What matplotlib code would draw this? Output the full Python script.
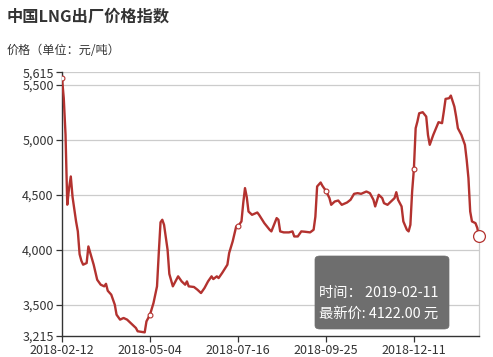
import matplotlib
matplotlib.use("Agg")
import matplotlib.pyplot as plt
from matplotlib.patches import FancyBboxPatch
from matplotlib.ticker import FuncFormatter

plt.rcParams['font.family'] = ['Noto Sans CJK SC', 'DejaVu Sans']

title = "中国LNG出厂价格指数"
unit_label = "价格（单位：元/吨）"

# trading-day index and price (元/吨)
day_index = [0, 1, 2, 3, 4, 5, 6, 8, 9, 10, 11, 12, 14, 15, 17, 18, 20, 22, 24, 25,
             26, 28, 30, 31, 33, 35, 37, 40, 42, 43, 47, 48, 50, 52, 54, 55, 56, 57, 58, 60,
             61, 63, 66, 68, 70, 71, 72, 75, 77, 79, 81, 83, 85, 86, 88, 89, 91, 94, 95, 97,
             99, 100, 102, 103, 104, 105, 106, 108, 111, 112, 115, 118, 119, 122, 123, 124, 126, 129, 131, 132,
             134, 136, 138, 141, 143, 144, 145, 147, 148, 150, 152, 153, 155, 157, 159, 162, 164, 166, 168, 170,
             173, 175, 177, 178, 180, 182, 183, 185, 187, 189, 190, 191, 193, 194, 196, 197, 198, 199, 200, 201,
             202, 203, 205, 207, 208, 209, 211, 213, 214, 216, 217, 218, 220, 221, 223, 224, 225, 227, 229, 230,
             231, 232, 233, 235, 236, 237]
price = [5561, 5380, 5050, 4410, 4560, 4667, 4480, 4257, 4167, 3960, 3900, 3864, 3879, 4030, 3920, 3864, 3727, 3682, 3667, 3690,
         3627, 3591, 3500, 3409, 3364, 3379, 3364, 3318, 3288, 3258, 3248, 3348, 3409, 3515, 3667, 3970, 4250, 4273, 4227, 4000,
         3780, 3667, 3758, 3712, 3682, 3712, 3667, 3661, 3636, 3606, 3652, 3712, 3758, 3733, 3758, 3742, 3788, 3864, 3970, 4076,
         4212, 4212, 4258, 4424, 4561, 4480, 4348, 4318, 4339, 4318, 4242, 4182, 4167, 4288, 4273, 4167, 4158, 4158, 4167, 4121,
         4121, 4167, 4164, 4158, 4182, 4300, 4576, 4612, 4582, 4536, 4470, 4409, 4439, 4448, 4409, 4430, 4455, 4509, 4515, 4509,
         4530, 4515, 4455, 4394, 4500, 4470, 4424, 4409, 4439, 4470, 4524, 4455, 4394, 4258, 4182, 4167, 4227, 4530, 4736, 5106,
         5167, 5242, 5252, 5212, 5045, 4955, 5045, 5121, 5161, 5152, 5258, 5373, 5379, 5403, 5303, 5212, 5106, 5045, 4955, 4818,
         4652, 4348, 4258, 4242, 4200, 4122]

tick_index = [0, 50, 100, 150, 200]
tick_labels = ["2018-02-12", "2018-05-04", "2018-07-16", "2018-09-25", "2018-12-11"]
y_ticks = [3215, 3500, 4000, 4500, 5000, 5500, 5615]

tooltip_date = "2019-02-11"
tooltip_price = 4122.00

W, H = 493, 357
fig = plt.figure(figsize=(W / 100, H / 100), dpi=100)
ax = fig.add_axes([62 / W, 1 - 336 / H, (479 - 62) / W, (336 - 72.3) / H])

line_color = "#b3322f"
ax.plot(day_index, price, color=line_color, lw=1.7, zorder=3, solid_joinstyle="round")

# small symbols at label positions
for ti in tick_index:
    if ti in day_index:
        v = price[day_index.index(ti)]
        ax.plot([ti], [v], marker="o", ms=3.5, mfc="white", mec=line_color, mew=0.8, zorder=4)
# hover emphasis at last point
ax.plot([day_index[-1]], [price[-1]], marker="o", ms=8.5, mfc="white", mec=line_color, mew=0.9, zorder=5, clip_on=False)

ax.set_xlim(0, day_index[-1])
ax.set_ylim(y_ticks[0], y_ticks[-1])
ax.set_yticks(y_ticks)
ax.yaxis.set_major_formatter(FuncFormatter(lambda v, p: f"{int(v):,}"))
ax.set_xticks(tick_index)
ax.set_xticklabels(tick_labels)

for yv in y_ticks[1:]:
    ax.axhline(yv, color="#cccccc", lw=0.9, zorder=1)

ax.spines["top"].set_visible(False)
ax.spines["right"].set_color("#cccccc")
ax.spines["right"].set_linewidth(0.9)
ax.spines["left"].set_color("#333333")
ax.spines["bottom"].set_color("#333333")
ax.spines["left"].set_linewidth(1.0)
ax.spines["bottom"].set_linewidth(1.0)

ax.tick_params(axis="both", colors="#333333", labelcolor="#333333", labelsize=9, length=4, width=0.9)
ax.tick_params(axis="y", pad=2)
ax.tick_params(axis="x", pad=1.5)

fig.text(7 / W, 1 - 17 / H, title, fontsize=11.7, fontweight="bold", color="#333333", va="center", ha="left")
fig.text(7 / W, 1 - 50 / H, unit_label, fontsize=8.7, color="#333333", va="center", ha="left")

# tooltip
bx0, by0, bx1, by1 = 315, 256, 449, 329
box = FancyBboxPatch((bx0 / W, 1 - by1 / H), (bx1 - bx0) / W, (by1 - by0) / H,
                     boxstyle="round,pad=0,rounding_size=0.01", transform=fig.transFigure,
                     facecolor="#6e6e6e", edgecolor="#6e6e6e", lw=0.5, zorder=10)
fig.patches.append(box)
fig.text(319 / W, 1 - 293 / H, f"时间： {tooltip_date}", fontsize=10.3, color="white", va="center", ha="left", zorder=11)
fig.text(319 / W, 1 - 313.5 / H, f"最新价: {tooltip_price:.2f} 元", fontsize=10.3, color="white", va="center", ha="left", zorder=11)

fig.savefig("out.png", dpi=100)
